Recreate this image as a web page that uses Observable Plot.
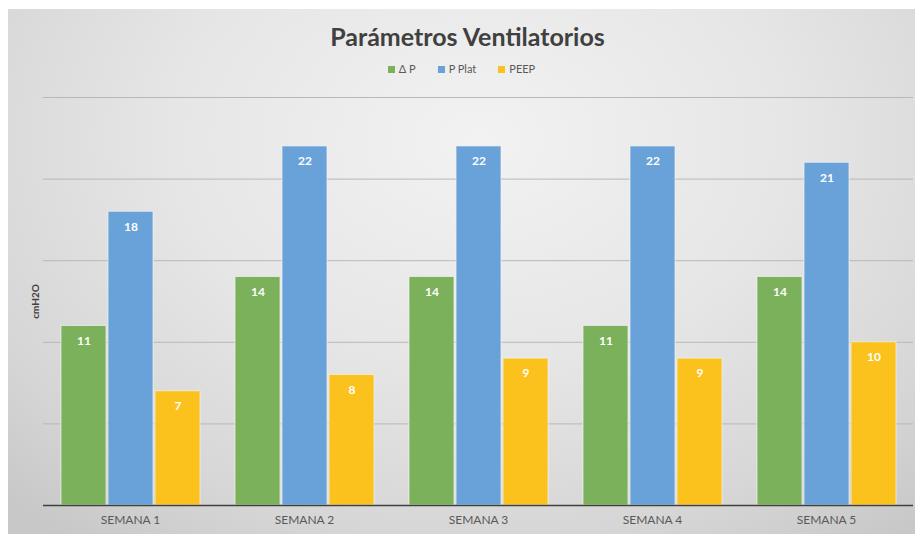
<!DOCTYPE html>
<html>
<head>
<meta charset="utf-8">
<script src="https://cdn.jsdelivr.net/npm/d3@7"></script>
<script src="https://cdn.jsdelivr.net/npm/@observablehq/plot@0.6"></script>
<style>
  html, body { margin: 0; padding: 0; background: #ffffff; }
  #frame {
    position: absolute; left: 8px; top: 9px; width: 907px; height: 525px;
    background: radial-gradient(ellipse 75% 95% at 52% 25%, #f2f2f2 0%, #e6e6e6 45%, #d6d6d6 80%, #c8c8c8 100%);
    font-family: Lato, "Open Sans", sans-serif;
    overflow: hidden;
  }
  #title {
    height: 45px; box-sizing: border-box; padding-top: 13px;
    text-align: center; font-size: 25px; line-height: 29px; font-weight: bold; color: #404040;
    padding-left: 12px;
  }
  #legend {
    height: 30px; line-height: 30px; text-align: center; font-size: 11px; color: #595959;
    padding-left: 0px;
  }
  #legend span.item { margin: 0 11px; }
  #legend span.sw { display: inline-block; width: 7px; height: 7px; margin-right: 4px; vertical-align: 0px; }
  svg { display: block; background: transparent; }
</style>
</head>
<body>
<div id="frame">
  <div id="title">Parámetros Ventilatorios</div>
  <div id="legend"></div>
  <div id="chart"></div>
</div>
<script>
const weeks = ["SEMANA 1", "SEMANA 2", "SEMANA 3", "SEMANA 4", "SEMANA 5"];
const series = ["Δ P", "P Plat", "PEEP"];
const deltaP = [11, 14, 14, 11, 14];
const pPlat = [18, 22, 22, 22, 21];
const peep = [7, 8, 9, 9, 10];
const colors = ["#7ab15a", "#69a2d8", "#fbc11c"];
const yTicks = [0, 5, 10, 15, 20, 25];

const values = [deltaP, pPlat, peep];
const data = [];
weeks.forEach((w, i) => series.forEach((s, j) => data.push({week: w, series: s, value: values[j][i]})));

// legend
const legend = document.getElementById("legend");
series.forEach((s, j) => {
  const it = document.createElement("span");
  it.className = "item";
  it.innerHTML = `<span class="sw" style="background:${colors[j]}"></span>${s}`;
  legend.appendChild(it);
});

const chart = Plot.plot({
  width: 907,
  height: 450,
  marginTop: 13,
  marginBottom: 29,
  marginLeft: 35,
  marginRight: 2,
  style: {background: "transparent", fontFamily: "Lato, 'Open Sans', sans-serif"},
  fx: {domain: weeks, padding: 0, label: null},
  x: {domain: series, paddingInner: 0.05, paddingOuter: 0.34, axis: null},
  y: {domain: [0, 25], axis: null},
  color: {domain: series, range: colors},
  marks: [
    Plot.ruleY(yTicks.slice(1), {stroke: "#b8b8b8", strokeWidth: 1}),
    Plot.barY(data, {fx: "week", x: "series", y: "value", fill: "series", stroke: "#f4f4f4", strokeOpacity: 0.7, strokeWidth: 1}),
    Plot.text(data, {fx: "week", x: "series", y: "value", text: d => String(d.value), dy: 15, fill: "white", fontWeight: "bold", fontSize: 12}),
    Plot.ruleY([0], {stroke: "#404040", strokeWidth: 1.5}),
    Plot.axisFx({anchor: "bottom", tickSize: 0, tickPadding: 10, fontSize: 12, fill: "#595959", label: null}),
    Plot.axisY({anchor: "left", ticks: [], tickSize: 0, label: "cmH2O", labelArrow: "none", labelAnchor: "center", labelOffset: 12, fontWeight: "bold", fontSize: 10, fill: "#404040"})
  ]
});
document.getElementById("chart").appendChild(chart);
</script>
</body>
</html>
